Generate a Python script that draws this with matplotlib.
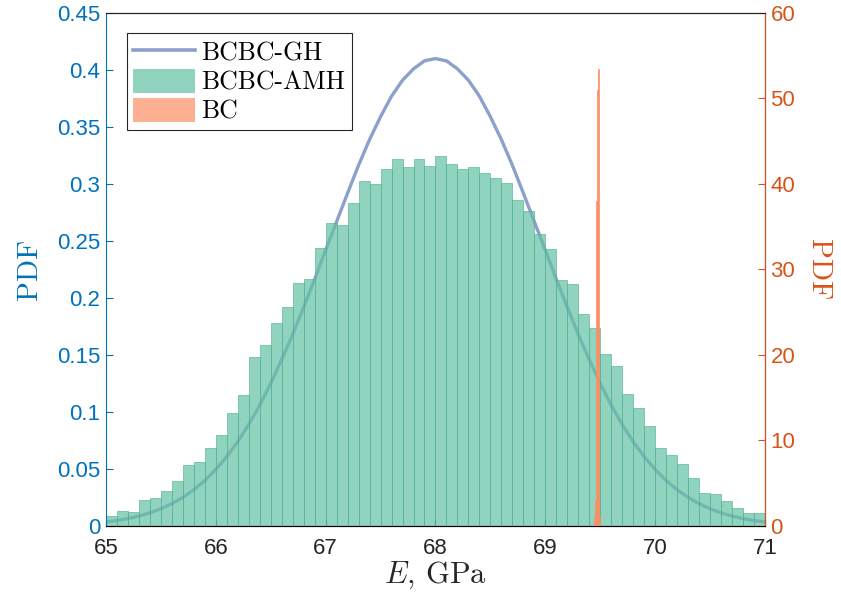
import matplotlib
matplotlib.use("Agg")
import matplotlib.pyplot as plt
from matplotlib.patches import Patch
from matplotlib.lines import Line2D
import numpy as np

# BCBC-AMH histogram (bins of 0.1 GPa starting at 65)
amh_start = 65.0
amh_width = 0.1
amh_pdf = [0.009, 0.013, 0.0126, 0.0228, 0.0246, 0.0307, 0.0398, 0.0535, 0.056, 0.068,
           0.080, 0.099, 0.1146, 0.148, 0.159, 0.178, 0.192, 0.213, 0.217, 0.244,
           0.2655, 0.264, 0.283, 0.3026, 0.2997, 0.3129, 0.3216, 0.3152, 0.3216, 0.3158,
           0.3243, 0.3175, 0.3135, 0.3146, 0.310, 0.3056, 0.3006, 0.286, 0.2766, 0.256,
           0.2427, 0.2158, 0.212, 0.186, 0.1734, 0.1506, 0.140, 0.1155, 0.1035, 0.0874,
           0.0687, 0.0623, 0.054, 0.042, 0.0287, 0.0278, 0.0219, 0.016, 0.0117, 0.0117]

# BCBC-GH curve (every 0.1 GPa)
gh_x = [65.0, 65.1, 65.2, 65.3, 65.4, 65.5, 65.6, 65.7, 65.8, 65.9,
        66.0, 66.1, 66.2, 66.3, 66.4, 66.5, 66.6, 66.7, 66.8, 66.9,
        67.0, 67.1, 67.2, 67.3, 67.4, 67.5, 67.6, 67.7, 67.8, 67.9,
        68.0, 68.1, 68.2, 68.3, 68.4, 68.5, 68.6, 68.7, 68.8, 68.9,
        69.0, 69.1, 69.2, 69.3, 69.4, 69.5, 69.6, 69.7, 69.8, 69.9,
        70.0, 70.1, 70.2, 70.3, 70.4, 70.5, 70.6, 70.7, 70.8, 70.9, 71.0]
gh_pdf = [0.0035, 0.0048, 0.0065, 0.0087, 0.0115, 0.0151, 0.0196, 0.0251, 0.0318, 0.0399,
          0.0496, 0.0609, 0.074, 0.0891, 0.106, 0.125, 0.146, 0.168, 0.192, 0.2164,
          0.242, 0.267, 0.292, 0.3165, 0.339, 0.359, 0.377, 0.391, 0.401, 0.408,
          0.410, 0.408, 0.401, 0.391, 0.377, 0.359, 0.339, 0.3165, 0.292, 0.267,
          0.242, 0.2164, 0.192, 0.168, 0.146, 0.125, 0.106, 0.0891, 0.074, 0.0609,
          0.0496, 0.0399, 0.0318, 0.0251, 0.0196, 0.0151, 0.0115, 0.0087, 0.0065, 0.0048, 0.0035]

# BC histogram (right axis), very narrow bins
bc_edges = [69.445, 69.453, 69.461, 69.469, 69.477, 69.485, 69.493, 69.501]
bc_pdf = [1.0, 3.0, 38.0, 51.0, 53.5, 4.0, 1.0]

left_color = "#0072BD"
right_color = "#D95319"
gh_color = "#8DA0CB"
amh_color = "#66C2A5"
bc_color = "#FC8D62"

plt.rcParams["mathtext.fontset"] = "cm"
plt.rcParams["axes.unicode_minus"] = False
plt.rcParams["font.family"] = ["Liberation Sans", "DejaVu Sans"]

fig = plt.figure(figsize=(8.41, 6.01), dpi=100)
ax = fig.add_axes([0.126, 0.1248, 0.7836, 0.8536])

ax.plot(gh_x, gh_pdf, color=gh_color, lw=2.4, zorder=1)

amh_edges = amh_start + amh_width * np.arange(len(amh_pdf) + 1)
amh_centers = (amh_edges[:-1] + amh_edges[1:]) / 2
ax.hist(amh_centers, bins=amh_edges, weights=amh_pdf, color=amh_color, alpha=0.72,
        edgecolor="#4FAF90", linewidth=0.6, zorder=2)

ax.set_xlim(65, 71)
ax.set_ylim(0, 0.45)
ax.set_yticks(np.arange(0, 0.451, 0.05))
ax.set_yticklabels(["0", "0.05", "0.1", "0.15", "0.2", "0.25", "0.3", "0.35", "0.4", "0.45"])
ax.set_xticks([65, 66, 67, 68, 69, 70, 71])

ax.tick_params(axis="both", direction="in", labelsize=16, length=5, width=0.8)
ax.tick_params(axis="x", colors="#262626", pad=9)
ax.tick_params(axis="y", colors=left_color, pad=4)
ax.spines["left"].set_color(left_color)
ax.spines["bottom"].set_color("#262626")
ax.spines["top"].set_color("#262626")
for s in ax.spines.values():
    s.set_linewidth(0.8)

ax.set_ylabel("PDF", family="cmr10", fontsize=21, color=left_color, labelpad=10)
ax.set_xlabel(r"$E$, GPa", family="cmr10", fontsize=22, color="#262626", labelpad=0)

ax2 = ax.twinx()
ax2.hist(np.array(bc_edges[:-1]) + 0.004, bins=bc_edges, weights=bc_pdf, color=bc_color,
         alpha=0.85, edgecolor=bc_color, linewidth=0.6, zorder=3)
ax2.set_ylim(0, 60)
ax2.set_yticks(np.arange(0, 61, 10))
ax2.tick_params(axis="y", direction="in", labelsize=16, length=5, width=0.8,
                colors=right_color, pad=4)
ax2.spines["right"].set_color(right_color)
ax2.spines["left"].set_visible(False)
ax2.spines["top"].set_color("#262626")
for s in ax2.spines.values():
    s.set_linewidth(0.8)
ax2.set_ylabel("PDF", family="cmr10", fontsize=21, color=right_color, rotation=270,
               labelpad=26)

handles = [Line2D([], [], color=gh_color, lw=2.6),
           Patch(facecolor=amh_color, alpha=0.72, edgecolor="none"),
           Patch(facecolor=bc_color, alpha=0.7, edgecolor="none")]
leg = ax2.legend(handles, ["BCBC-GH", "BCBC-AMH", "BC"], loc="upper left",
                 bbox_to_anchor=(0.032, 0.961), prop={"family": "cmr10", "size": 18.5},
                 frameon=True, fancybox=False, framealpha=1, edgecolor="#262626",
                 handlelength=2.4, handleheight=1.1, handletextpad=0.25,
                 labelspacing=0.12, borderpad=0.25, borderaxespad=0)
leg.get_frame().set_linewidth(0.8)

fig.savefig("out.png", dpi=100)
